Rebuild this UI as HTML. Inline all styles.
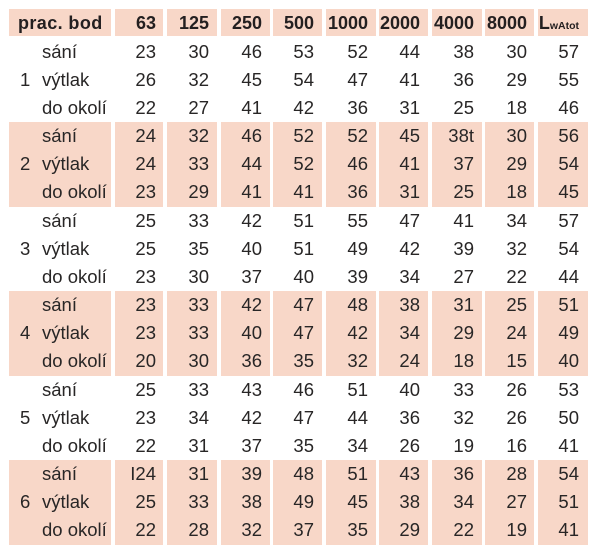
<!DOCTYPE html>
<html>
<head>
<meta charset="utf-8">
<style>
html,body{margin:0;padding:0;background:#fff;}
body{width:603px;height:558px;position:relative;overflow:hidden;font-family:"Liberation Sans",Arial,sans-serif;font-size:18.5px;color:#282626;}
.p{position:absolute;background:#f8d7c8;}
.r{position:absolute;left:0;width:603px;height:28.17px;line-height:28.17px;}
.h{position:absolute;left:0;top:10px;width:603px;height:27px;line-height:27px;font-weight:bold;color:#231f20;font-size:18px;}
.r span,.h span{position:absolute;top:0;white-space:nowrap;}
.n{left:20px;}
.l{left:42px;}
.c1{left:115px;width:41px;text-align:right;}
.c2{left:167px;width:42px;text-align:right;}
.c3{left:221px;width:41px;text-align:right;}
.c4{left:273px;width:41px;text-align:right;}
.c5{left:326px;width:42px;text-align:right;}
.c6{left:379px;width:41px;text-align:right;}
.c7{left:432px;width:42px;text-align:right;}
.c8{left:485px;width:42px;text-align:right;}
.c9{left:538px;width:41px;text-align:right;}
.sub{font-size:10.5px;}
</style>
</head>
<body>
<!-- header pink -->
<div class="p" style="left:9px;top:9px;width:102px;height:27px"></div>
<div class="p" style="left:115px;top:9px;width:48px;height:27px"></div>
<div class="p" style="left:167px;top:9px;width:50px;height:27px"></div>
<div class="p" style="left:221px;top:9px;width:49px;height:27px"></div>
<div class="p" style="left:273px;top:9px;width:49px;height:27px"></div>
<div class="p" style="left:326px;top:9px;width:50px;height:27px"></div>
<div class="p" style="left:379px;top:9px;width:49px;height:27px"></div>
<div class="p" style="left:432px;top:9px;width:50px;height:27px"></div>
<div class="p" style="left:485px;top:9px;width:49px;height:27px"></div>
<div class="p" style="left:538px;top:9px;width:50px;height:27px"></div>

<!-- group 2 pink -->
<div class="p" style="left:9px;top:122px;width:102px;height:84.5px"></div>
<div class="p" style="left:115px;top:122px;width:48px;height:84.5px"></div>
<div class="p" style="left:167px;top:122px;width:50px;height:84.5px"></div>
<div class="p" style="left:221px;top:122px;width:49px;height:84.5px"></div>
<div class="p" style="left:273px;top:122px;width:49px;height:84.5px"></div>
<div class="p" style="left:326px;top:122px;width:50px;height:84.5px"></div>
<div class="p" style="left:379px;top:122px;width:49px;height:84.5px"></div>
<div class="p" style="left:432px;top:122px;width:50px;height:84.5px"></div>
<div class="p" style="left:485px;top:122px;width:49px;height:84.5px"></div>
<div class="p" style="left:538px;top:122px;width:50px;height:84.5px"></div>

<!-- group 4 pink -->
<div class="p" style="left:9px;top:291px;width:102px;height:84.5px"></div>
<div class="p" style="left:115px;top:291px;width:48px;height:84.5px"></div>
<div class="p" style="left:167px;top:291px;width:50px;height:84.5px"></div>
<div class="p" style="left:221px;top:291px;width:49px;height:84.5px"></div>
<div class="p" style="left:273px;top:291px;width:49px;height:84.5px"></div>
<div class="p" style="left:326px;top:291px;width:50px;height:84.5px"></div>
<div class="p" style="left:379px;top:291px;width:49px;height:84.5px"></div>
<div class="p" style="left:432px;top:291px;width:50px;height:84.5px"></div>
<div class="p" style="left:485px;top:291px;width:49px;height:84.5px"></div>
<div class="p" style="left:538px;top:291px;width:50px;height:84.5px"></div>

<!-- group 6 pink -->
<div class="p" style="left:9px;top:460px;width:102px;height:84.5px"></div>
<div class="p" style="left:115px;top:460px;width:48px;height:84.5px"></div>
<div class="p" style="left:167px;top:460px;width:50px;height:84.5px"></div>
<div class="p" style="left:221px;top:460px;width:49px;height:84.5px"></div>
<div class="p" style="left:273px;top:460px;width:49px;height:84.5px"></div>
<div class="p" style="left:326px;top:460px;width:50px;height:84.5px"></div>
<div class="p" style="left:379px;top:460px;width:49px;height:84.5px"></div>
<div class="p" style="left:432px;top:460px;width:50px;height:84.5px"></div>
<div class="p" style="left:485px;top:460px;width:49px;height:84.5px"></div>
<div class="p" style="left:538px;top:460px;width:50px;height:84.5px"></div>

<!-- header text -->
<div class="h">
<span style="left:18px;letter-spacing:0.4px">prac. bod</span>
<span class="c1">63</span><span class="c2">125</span><span class="c3">250</span><span class="c4">500</span><span class="c5">1000</span><span class="c6">2000</span><span class="c7">4000</span><span class="c8">8000</span><span class="c9">L<span class="sub" style="position:static">wAtot</span></span>
</div>

<!-- group 1 -->
<div class="r" style="top:37.5px"><span class="l">sání</span><span class="c1">23</span><span class="c2">30</span><span class="c3">46</span><span class="c4">53</span><span class="c5">52</span><span class="c6">44</span><span class="c7">38</span><span class="c8">30</span><span class="c9">57</span></div>
<div class="r" style="top:65.67px"><span class="n">1</span><span class="l">výtlak</span><span class="c1">26</span><span class="c2">32</span><span class="c3">45</span><span class="c4">54</span><span class="c5">47</span><span class="c6">41</span><span class="c7">36</span><span class="c8">29</span><span class="c9">55</span></div>
<div class="r" style="top:93.83px"><span class="l">do okolí</span><span class="c1">22</span><span class="c2">27</span><span class="c3">41</span><span class="c4">42</span><span class="c5">36</span><span class="c6">31</span><span class="c7">25</span><span class="c8">18</span><span class="c9">46</span></div>

<!-- group 2 -->
<div class="r" style="top:122px"><span class="l">sání</span><span class="c1">24</span><span class="c2">32</span><span class="c3">46</span><span class="c4">52</span><span class="c5">52</span><span class="c6">45</span><span class="c7">38t</span><span class="c8">30</span><span class="c9">56</span></div>
<div class="r" style="top:150.17px"><span class="n">2</span><span class="l">výtlak</span><span class="c1">24</span><span class="c2">33</span><span class="c3">44</span><span class="c4">52</span><span class="c5">46</span><span class="c6">41</span><span class="c7">37</span><span class="c8">29</span><span class="c9">54</span></div>
<div class="r" style="top:178.33px"><span class="l">do okolí</span><span class="c1">23</span><span class="c2">29</span><span class="c3">41</span><span class="c4">41</span><span class="c5">36</span><span class="c6">31</span><span class="c7">25</span><span class="c8">18</span><span class="c9">45</span></div>

<!-- group 3 -->
<div class="r" style="top:206.5px"><span class="l">sání</span><span class="c1">25</span><span class="c2">33</span><span class="c3">42</span><span class="c4">51</span><span class="c5">55</span><span class="c6">47</span><span class="c7">41</span><span class="c8">34</span><span class="c9">57</span></div>
<div class="r" style="top:234.67px"><span class="n">3</span><span class="l">výtlak</span><span class="c1">25</span><span class="c2">35</span><span class="c3">40</span><span class="c4">51</span><span class="c5">49</span><span class="c6">42</span><span class="c7">39</span><span class="c8">32</span><span class="c9">54</span></div>
<div class="r" style="top:262.83px"><span class="l">do okolí</span><span class="c1">23</span><span class="c2">30</span><span class="c3">37</span><span class="c4">40</span><span class="c5">39</span><span class="c6">34</span><span class="c7">27</span><span class="c8">22</span><span class="c9">44</span></div>

<!-- group 4 -->
<div class="r" style="top:291px"><span class="l">sání</span><span class="c1">23</span><span class="c2">33</span><span class="c3">42</span><span class="c4">47</span><span class="c5">48</span><span class="c6">38</span><span class="c7">31</span><span class="c8">25</span><span class="c9">51</span></div>
<div class="r" style="top:319.17px"><span class="n">4</span><span class="l">výtlak</span><span class="c1">23</span><span class="c2">33</span><span class="c3">40</span><span class="c4">47</span><span class="c5">42</span><span class="c6">34</span><span class="c7">29</span><span class="c8">24</span><span class="c9">49</span></div>
<div class="r" style="top:347.33px"><span class="l">do okolí</span><span class="c1">20</span><span class="c2">30</span><span class="c3">36</span><span class="c4">35</span><span class="c5">32</span><span class="c6">24</span><span class="c7">18</span><span class="c8">15</span><span class="c9">40</span></div>

<!-- group 5 -->
<div class="r" style="top:375.5px"><span class="l">sání</span><span class="c1">25</span><span class="c2">33</span><span class="c3">43</span><span class="c4">46</span><span class="c5">51</span><span class="c6">40</span><span class="c7">33</span><span class="c8">26</span><span class="c9">53</span></div>
<div class="r" style="top:403.67px"><span class="n">5</span><span class="l">výtlak</span><span class="c1">23</span><span class="c2">34</span><span class="c3">42</span><span class="c4">47</span><span class="c5">44</span><span class="c6">36</span><span class="c7">32</span><span class="c8">26</span><span class="c9">50</span></div>
<div class="r" style="top:431.83px"><span class="l">do okolí</span><span class="c1">22</span><span class="c2">31</span><span class="c3">37</span><span class="c4">35</span><span class="c5">34</span><span class="c6">26</span><span class="c7">19</span><span class="c8">16</span><span class="c9">41</span></div>

<!-- group 6 -->
<div class="r" style="top:460px"><span class="l">sání</span><span class="c1">I24</span><span class="c2">31</span><span class="c3">39</span><span class="c4">48</span><span class="c5">51</span><span class="c6">43</span><span class="c7">36</span><span class="c8">28</span><span class="c9">54</span></div>
<div class="r" style="top:488.17px"><span class="n">6</span><span class="l">výtlak</span><span class="c1">25</span><span class="c2">33</span><span class="c3">38</span><span class="c4">49</span><span class="c5">45</span><span class="c6">38</span><span class="c7">34</span><span class="c8">27</span><span class="c9">51</span></div>
<div class="r" style="top:516.33px"><span class="l">do okolí</span><span class="c1">22</span><span class="c2">28</span><span class="c3">32</span><span class="c4">37</span><span class="c5">35</span><span class="c6">29</span><span class="c7">22</span><span class="c8">19</span><span class="c9">41</span></div>
</body>
</html>
